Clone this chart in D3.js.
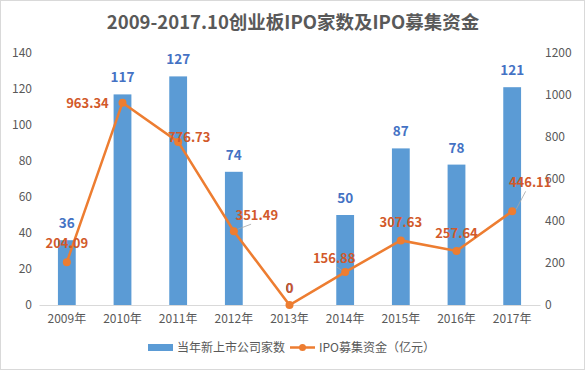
<!DOCTYPE html>
<html>
<head>
<meta charset="utf-8">
<script src="https://d3js.org/d3.v7.min.js"></script>
<style>
  body { margin: 0; background: #fff; }
  svg { font-family: "Noto Sans CJK SC", "Noto Sans", sans-serif; }
</style>
</head>
<body>
<div id="my_dataviz"></div>
<script>
    // data
    var years = ["2009年", "2010年", "2011年", "2012年", "2013年", "2014年", "2015年", "2016年", "2017年"];
    var companies = [36, 117, 127, 74, 0, 50, 87, 78, 121];
    var funds = [204.09, 963.34, 776.73, 351.49, 0, 156.88, 307.63, 257.64, 446.11];
    var leftTicks = [0, 20, 40, 60, 80, 100, 120, 140];
    var rightTicks = [0, 200, 400, 600, 800, 1000, 1200];

    // label nudges for the line values (dx, dy, leader line?)
    var fundLabelPos = [
        [0, -19, false], [-35, 0, false], [11, -5, false], [23, -16, true], [0, -17, false],
        [-11, -14, true], [0, -18, false], [0, -18, false], [18, -29, true]
    ];

    var W = 585, H = 370;
    var svg = d3.select("#my_dataviz")
        .append("svg")
        .attr("width", W)
        .attr("height", H);

    svg.append("rect")
        .attr("x", 0.5).attr("y", 0.5)
        .attr("width", W - 1).attr("height", H - 1)
        .attr("fill", "#fff").attr("stroke", "#d9d9d9");

    // title
    svg.append("text")
        .attr("x", 293).attr("y", 29)
        .attr("text-anchor", "middle")
        .attr("font-size", 18.5)
        .attr("font-weight", "bold")
        .attr("fill", "#595959")
        .text("2009-2017.10创业板IPO家数及IPO募集资金");

    var x = d3.scaleBand().domain(years).range([39, 540]).paddingInner(0.68).paddingOuter(0.34);
    var yL = d3.scaleLinear().domain([0, 140]).range([305, 53]);
    var yR = d3.scaleLinear().domain([0, 1200]).range([305, 53]);

    // left axis
    var axL = svg.append("g")
        .attr("transform", "translate(39,0)")
        .call(d3.axisLeft(yL).tickValues(leftTicks).tickFormat(d3.format("d")).tickSize(0).tickPadding(7));
    axL.select(".domain").remove();

    // right axis
    var axR = svg.append("g")
        .attr("transform", "translate(540,0)")
        .call(d3.axisRight(yR).tickValues(rightTicks).tickFormat(d3.format("d")).tickSize(0).tickPadding(5));
    axR.select(".domain").remove();

    // bottom axis
    var axB = svg.append("g")
        .attr("transform", "translate(0,305)")
        .call(d3.axisBottom(x).tickSize(0).tickPadding(9));
    axB.select(".domain").attr("stroke", "#d9d9d9");

    svg.selectAll(".tick text")
        .attr("fill", "#595959")
        .attr("font-size", 12)
        .attr("font-family", "\"Noto Sans CJK SC\", sans-serif");

    var rows = years.map(function(d, i) {
        return { year: d, n: companies[i], v: funds[i], pos: fundLabelPos[i] };
    });

    // bars
    svg.selectAll("rect.bar")
        .data(rows)
        .enter()
        .append("rect")
        .attr("class", "bar")
        .attr("x", function(d) { return x(d.year); })
        .attr("y", function(d) { return yL(d.n); })
        .attr("width", x.bandwidth())
        .attr("height", function(d) { return yL(0) - yL(d.n); })
        .attr("fill", "#5B9BD5");

    // bar labels
    svg.selectAll("text.barlab")
        .data(rows)
        .enter()
        .append("text")
        .attr("class", "barlab")
        .attr("x", function(d) { return x(d.year) + x.bandwidth() / 2; })
        .attr("y", function(d) { return yL(d.n) - 12; })
        .attr("text-anchor", "middle")
        .attr("font-size", 13.5)
        .attr("font-weight", "bold")
        .attr("fill", "#4472C4")
        .text(function(d) { return d.n; });

    var cx = function(d) { return x(d.year) + x.bandwidth() / 2; };

    // line
    var line = d3.line()
        .x(cx)
        .y(function(d) { return yR(d.v); });

    svg.append("path")
        .datum(rows)
        .attr("d", line)
        .attr("fill", "none")
        .attr("stroke", "#ED7D31")
        .attr("stroke-width", 2.5);

    svg.selectAll("circle.pt")
        .data(rows)
        .enter()
        .append("circle")
        .attr("class", "pt")
        .attr("cx", cx)
        .attr("cy", function(d) { return yR(d.v); })
        .attr("r", 4)
        .attr("fill", "#ED7D31");

    // leader lines
    svg.selectAll("line.leader")
        .data(rows.filter(function(d) { return d.pos[2]; }))
        .enter()
        .append("line")
        .attr("class", "leader")
        .attr("x1", function(d) { return cx(d) + (d.pos[0] > 0 ? 4 : -4); })
        .attr("y1", function(d) { return yR(d.v) - 2; })
        .attr("x2", function(d) { return cx(d) + d.pos[0] * 0.75; })
        .attr("y2", function(d) { return yR(d.v) + d.pos[1] + 9; })
        .attr("stroke", "#a6a6a6")
        .attr("stroke-width", 0.8);

    // line labels
    svg.selectAll("text.funlab")
        .data(rows)
        .enter()
        .append("text")
        .attr("class", "funlab")
        .attr("x", function(d) { return cx(d) + d.pos[0]; })
        .attr("y", function(d) { return yR(d.v) + d.pos[1] + 5; })
        .attr("text-anchor", "middle")
        .attr("font-size", 13)
        .attr("font-weight", "bold")
        .attr("fill", "#D2592A")
        .text(function(d) { return d.v === 0 ? "0" : d3.format(".2f")(d.v); });

    // legend
    var lg = svg.append("g");
    lg.append("rect")
        .attr("x", 148).attr("y", 344)
        .attr("width", 25).attr("height", 7)
        .attr("fill", "#5B9BD5");
    lg.append("text")
        .attr("x", 177).attr("y", 352)
        .attr("font-size", 12).attr("fill", "#595959")
        .text("当年新上市公司家数");
    lg.append("line")
        .attr("x1", 290).attr("x2", 315)
        .attr("y1", 347.5).attr("y2", 347.5)
        .attr("stroke", "#ED7D31").attr("stroke-width", 2.5);
    lg.append("circle")
        .attr("cx", 302.5).attr("cy", 347.5).attr("r", 3.5)
        .attr("fill", "#ED7D31");
    lg.append("text")
        .attr("x", 319).attr("y", 352)
        .attr("font-size", 12).attr("fill", "#595959")
        .text("IPO募集资金（亿元）");
</script>
</body>
</html>
